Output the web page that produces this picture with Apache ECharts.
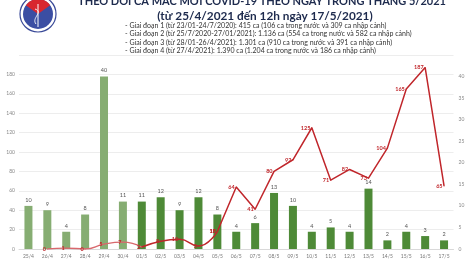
<!DOCTYPE html>
<html><head><meta charset="utf-8">
<script src="https://cdn.jsdelivr.net/npm/echarts@6/dist/echarts.min.js"></script>
<style>html,body{margin:0;padding:0;background:#fff}#c{width:470px;height:264px}</style>
</head><body><div id="c"></div>
<script>
var categories = ['25/4','26/4','27/4','28/4','29/4','30/4','01/5','02/5','03/5','04/5','05/5','06/5','07/5','08/5','09/5','10/5','11/5','12/5','13/5','14/5','15/5','16/5','17/5'];
var barValues = [10,9,4,8,40,11,11,12,9,12,8,4,6,13,10,4,5,4,14,2,4,3,2];
var lineValues = [null,0,1,0,5,7,2,8,10,3,18,64,41,80,92,125,71,82,73,104,165,187,65];
var leftTicks = [0,20,40,60,80,100,120,140,160,180];
var rightTicks = [0,5,10,15,20,25,30,35,40];
var titleLine1 = 'THEO DÕI CA MẮC MỚI COVID-19 THEO NGÀY TRONG THÁNG 5/2021';
var titleLine2 = '(từ 25/4/2021 đến 12h ngày 17/5/2021)';
var notes = [
 '- Giai đoạn 1 (từ 23/01-24/7/2020): 415 ca (106 ca trong nước và 309 ca nhập cảnh)',
 '- Giai đoạn 2 (từ 25/7/2020-27/01/2021): 1.136 ca (554 ca trong nước và 582 ca nhập cảnh)',
 '- Giai đoạn 3 (từ 28/01-26/4/2021): 1.301 ca (910 ca trong nước và 391 ca nhập cảnh)',
 '- Giai đoạn 4 (từ 27/4/2021): 1.390 ca (1.204 ca trong nước và 186 ca nhập cảnh)'
];
var lightBarCount = 6;

function seg(from, to, labelFrom) {
  return lineValues.map(function (v, i) {
    if (i < from || i > to) return null;
    return { value: v, label: { show: i >= labelFrom } };
  });
}
var barData = barValues.map(function (v, i) {
  return { value: v, itemStyle: { color: i < lightBarCount ? '#86ad72' : '#4e8a37' } };
});
var lineLabel = { show: true, position: 'left', distance: 1, fontSize: 5.5, fontWeight: 'bold', color: '#c0262b', fontFamily: 'Lato' };

var chart = echarts.init(document.getElementById('c'));
var graphics = [
  { type: 'circle', shape: { cx: 38, cy: 14, r: 18 }, style: { fill: '#fff', stroke: '#3a4a98', lineWidth: 1.2 } },
  { type: 'circle', shape: { cx: 38, cy: 14, r: 15 }, style: { fill: '#3b4ea3' } },
  { type: 'sector', shape: { cx: 38, cy: 14, r: 15, r0: 0, startAngle: Math.PI * 1.2, endAngle: Math.PI * 1.8 }, style: { fill: '#d8262f' } },
  { type: 'line', shape: { x1: 38, y1: 4, x2: 38, y2: 27 }, style: { stroke: '#fff', lineWidth: 1 } },
  { type: 'bezierCurve', shape: { x1: 35, y1: 9, x2: 36, y2: 24, cpx1: 44, cpy1: 12, cpx2: 31, cpy2: 18 }, style: { stroke: '#fff', lineWidth: 0.9, fill: null } },
  { type: 'text', style: { x: 262, y: 1, text: titleLine1, fill: '#1d2a4d', font: 'bold 11px Lato', textAlign: 'center', textVerticalAlign: 'middle' } },
  { type: 'text', style: { x: 265, y: 16, text: titleLine2, fill: '#1d2a4d', font: 'bold 11.8px Lato', textAlign: 'center', textVerticalAlign: 'middle' } }
];
notes.forEach(function (t, i) {
  graphics.push({ type: 'text', style: { x: 125, y: 25.5 + i * 8.5, text: t, fill: '#333', font: '7px Lato', textAlign: 'left', textVerticalAlign: 'middle' } });
});

function lineSeries(from, to, labelFrom, smooth, color, width) {
  return { type: 'line', yAxisIndex: 0, data: seg(from, to, labelFrom), smooth: smooth,
    showSymbol: true, showAllSymbol: true, symbol: 'circle', symbolSize: 1, itemStyle: { color: color },
    lineStyle: { color: color, width: width }, label: lineLabel, z: 3 };
}

chart.setOption({
  animation: false,
  backgroundColor: '#fff',
  grid: { left: 19, right: 16.5, top: 55, bottom: 15 },
  xAxis: {
    type: 'category', data: categories,
    axisLine: { lineStyle: { color: '#d9d9d9' } },
    axisTick: { show: false },
    axisLabel: { fontSize: 5, color: '#777', margin: 5, fontFamily: 'Lato', interval: 0 }
  },
  yAxis: [
    { type: 'value', min: 0, max: 200, interval: 20,
      axisLabel: { fontSize: 5, color: '#888', margin: 4, fontFamily: 'Lato',
        formatter: function (v) { return leftTicks.indexOf(v) >= 0 ? String(v) : ''; } },
      splitLine: { lineStyle: { color: '#e8e8e8', width: 0.8 } },
      axisLine: { show: false }, axisTick: { show: false } },
    { type: 'value', min: 0, max: 45, interval: 5, position: 'right',
      axisLabel: { fontSize: 5, color: '#888', margin: 5, fontFamily: 'Lato',
        formatter: function (v) { return rightTicks.indexOf(v) >= 0 ? String(v) : ''; } },
      splitLine: { show: false }, axisLine: { show: false }, axisTick: { show: false } }
  ],
  series: [
    { type: 'bar', yAxisIndex: 1, data: barData, barWidth: 8,
      label: { show: true, position: 'top', distance: 3, fontSize: 5.5, color: '#555', fontFamily: 'Lato' } },
    lineSeries(1, 6, 1, true, '#d9686d', 1.3),
    lineSeries(6, 10, 7, true, '#c0262b', 1.5),
    lineSeries(10, 22, 10, false, '#c0262b', 1.5)
  ],
  graphic: graphics
});
</script></body></html>
